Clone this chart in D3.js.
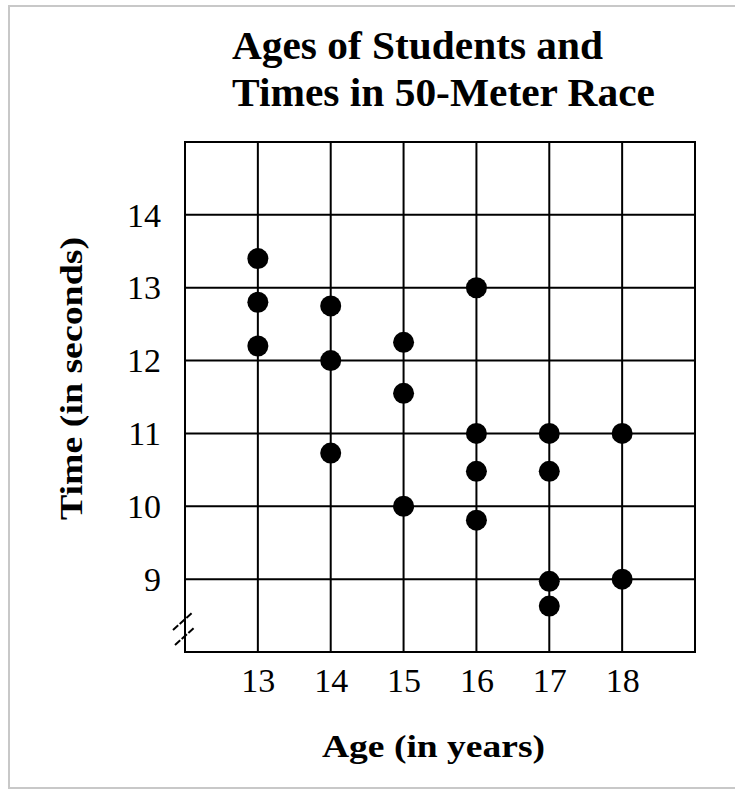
<!DOCTYPE html>
<html><head><meta charset="utf-8">
<script src="https://cdn.jsdelivr.net/npm/d3@7"></script>
<style>html,body{margin:0;padding:0;background:#fff;overflow:hidden;}svg{display:block;}</style>
</head><body>
<script>
const ages = [13,13,13,14,14,14,15,15,15,16,16,16,16,17,17,17,17,18,18];
const times = [13.4,12.8,12.2,12.75,12.0,10.73,12.25,11.55,10.0,13.0,11.0,10.48,9.81,11.0,10.48,8.97,8.63,11.0,9.0];
const xTicks = [13,14,15,16,17,18];
const yTicks = [9,10,11,12,13,14];
const titleLines = ["Ages of Students and","Times in 50-Meter Race"];
const xTitle = "Age (in years)";
const yTitle = "Time (in seconds)";

const W = 735, H = 794;
const svg = d3.select("body").append("svg").attr("width", W).attr("height", H);
const serif = "'Liberation Serif','Times New Roman',serif";

// outer frame
svg.append("path").attr("d", `M${W+10},6 H9 V788 H${W+10}`).attr("fill","none")
  .attr("stroke","#c8c8c8").attr("stroke-width",2);

const x = d3.scaleLinear().domain([12,19]).range([185,695]);
const y = d3.scaleLinear().domain([8,15]).range([652,142]);

// grid
const g = svg.append("g");
g.selectAll("line.v").data(xTicks).join("line")
  .attr("x1", d=>x(d)).attr("x2", d=>x(d)).attr("y1", y(15)).attr("y2", y(8))
  .attr("stroke","#000").attr("stroke-width",2);
g.selectAll("line.h").data(yTicks).join("line")
  .attr("y1", d=>y(d)).attr("y2", d=>y(d)).attr("x1", x(12)).attr("x2", x(19))
  .attr("stroke","#000").attr("stroke-width",2);
g.append("rect").attr("x", x(12)).attr("y", y(15)).attr("width", x(19)-x(12)).attr("height", y(8)-y(15))
  .attr("fill","none").attr("stroke","#000").attr("stroke-width",2);

// axes (labels only)
const xAxis = svg.append("g").attr("transform", `translate(0,${y(8)})`)
  .call(d3.axisBottom(x).tickValues(xTicks).tickFormat(d3.format("d")).tickSize(0).tickPadding(0));
xAxis.select(".domain").remove();
xAxis.selectAll("text").attr("font-family", serif).attr("font-size", 34).attr("fill","#000")
  .attr("dy", null).attr("y", 40);

const yAxis = svg.append("g").attr("transform", `translate(${x(12)},0)`)
  .call(d3.axisLeft(y).tickValues(yTicks).tickFormat(d3.format("d")).tickSize(0).tickPadding(24));
yAxis.select(".domain").remove();
yAxis.selectAll("text").attr("font-family", serif).attr("font-size", 34).attr("fill","#000").attr("dy","0.33em");

// axis break marks
const brk = svg.append("g").attr("stroke","#000").attr("stroke-width",2).attr("stroke-dasharray","7,2");
brk.append("line").attr("x1",173).attr("y1",630).attr("x2",193).attr("y2",612);
brk.append("line").attr("x1",175).attr("y1",645).attr("x2",195).attr("y2",627);

// points
svg.append("g").selectAll("circle").data(ages.map((a,i)=>({a, t: times[i]}))).join("circle")
  .attr("cx", d=>x(d.a)).attr("cy", d=>y(d.t)).attr("r", 10.5).attr("fill","#000");

// title
const tl = [371, 423];
svg.append("g").selectAll("text").data(titleLines).join("text")
  .attr("x", 232).attr("y", (d,i)=>59 + i*47)
  .attr("font-family", serif).attr("font-weight","bold").attr("font-size", 39).attr("fill","#000")
  .attr("textLength", (d,i)=>tl[i]).attr("lengthAdjust","spacingAndGlyphs")
  .text(d=>d);

svg.append("text").attr("x", 322).attr("y", 757)
  .attr("font-family", serif).attr("font-weight","bold").attr("font-size", 32).attr("fill","#000")
  .attr("textLength", 223).attr("lengthAdjust","spacingAndGlyphs")
  .text(xTitle);

svg.append("text").attr("transform", "translate(82,520) rotate(-90)")
  .attr("font-family", serif).attr("font-weight","bold").attr("font-size", 32).attr("fill","#000")
  .attr("textLength", 283).attr("lengthAdjust","spacingAndGlyphs")
  .text(yTitle);
</script>
</body></html>
